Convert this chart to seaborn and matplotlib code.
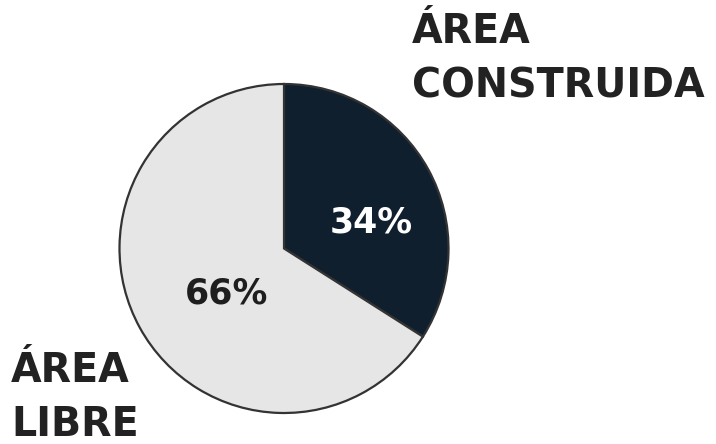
import matplotlib
matplotlib.use("Agg")
import matplotlib.pyplot as plt
import seaborn as sns

labels = ["ÁREA\nCONSTRUIDA", "ÁREA\nLIBRE"]
values = [34, 66]
colors = ["#0f1f2e", "#e6e6e6"]

sns.set_theme(style="white")
plt.rcParams["font.family"] = ["DejaVu Sans"]

fig = plt.figure(figsize=(7.16, 4.44), dpi=100)
ax = fig.add_axes([0, 0, 1, 1])

ax.pie(values, colors=colors, startangle=-90, counterclock=True,
       center=(284, 248.5), radius=164.5,
       wedgeprops=dict(edgecolor="#333333", linewidth=1.6))
ax.set_xlim(0, 716)
ax.set_ylim(444, 0)
ax.set_aspect("equal")
ax.axis("off")

total = sum(values)
pct = [f"{round(v / total * 100)}%" for v in values]
ax.text(371, 222, pct[0], color="white", fontsize=25, fontweight="bold",
        ha="center", va="center")
ax.text(227, 293, pct[1], color="#1e1e1e", fontsize=25, fontweight="bold",
        ha="center", va="center")

ax.text(412, 97, labels[0], color="#222222", fontsize=28.5, fontweight="bold",
        ha="left", va="baseline", linespacing=1.45)
ax.text(11, 436, labels[1], color="#222222", fontsize=28.5, fontweight="bold",
        ha="left", va="baseline", linespacing=1.45)

fig.savefig("out.png", dpi=100, facecolor="white")
